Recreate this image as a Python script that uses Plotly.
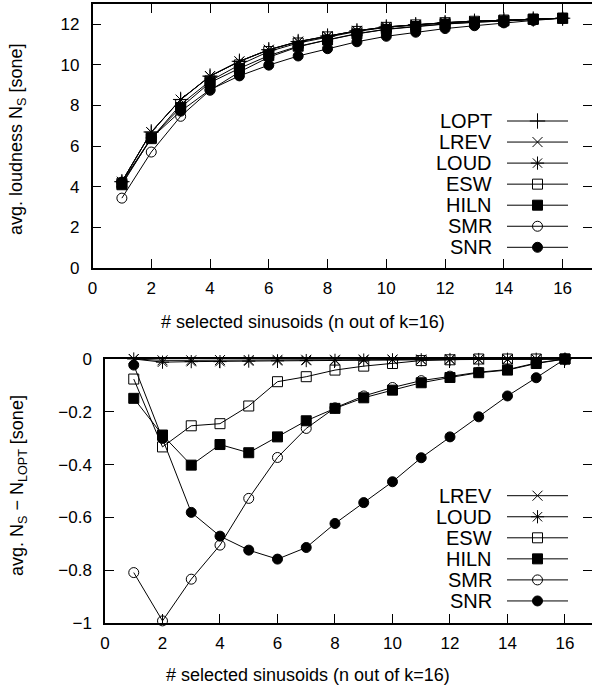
import plotly.graph_objects as go

# ---------------- data ----------------
n_sel = list(range(1, 17))

series_names = ["LOPT", "LREV", "LOUD", "ESW", "HILN", "SMR", "SNR"]

# top: average loudness N_S [sone]
loud_LOPT = [4.25, 6.70, 8.30, 9.45, 10.18, 10.75, 11.15, 11.42, 11.68, 11.87, 11.98, 12.08, 12.15, 12.21, 12.26, 12.30]
loud_LREV = [4.25, 6.69, 8.29, 9.45, 10.18, 10.75, 11.15, 11.42, 11.68, 11.87, 11.98, 12.08, 12.15, 12.21, 12.26, 12.30]
loud_LOUD = [4.25, 6.69, 8.29, 9.44, 10.17, 10.74, 11.14, 11.42, 11.68, 11.87, 11.98, 12.08, 12.15, 12.21, 12.26, 12.30]
loud_ESW = [4.17, 6.37, 8.05, 9.21, 10.00, 10.66, 11.08, 11.38, 11.65, 11.85, 11.97, 12.08, 12.15, 12.21, 12.26, 12.30]
loud_HILN = [4.10, 6.41, 7.90, 9.13, 9.83, 10.46, 10.92, 11.23, 11.53, 11.75, 11.89, 12.01, 12.10, 12.17, 12.24, 12.30]
loud_SMR = [3.44, 5.71, 7.47, 8.75, 9.65, 10.38, 10.89, 11.24, 11.54, 11.76, 11.90, 12.02, 12.10, 12.17, 12.25, 12.30]
loud_SNR = [4.23, 6.40, 7.72, 8.78, 9.46, 9.99, 10.44, 10.80, 11.14, 11.41, 11.61, 11.79, 11.93, 12.07, 12.19, 12.30]

# bottom: N_S - N_LOPT [sone]
diff_LREV = [0.0, -0.005, -0.005, -0.004, -0.004, -0.003, -0.003, -0.003, -0.002, -0.002, -0.002, -0.001, -0.001, -0.001, 0.0, 0.0]
diff_LOUD = [0.0, -0.012, -0.010, -0.010, -0.008, -0.007, -0.006, -0.005, -0.004, -0.003, -0.003, -0.002, -0.002, -0.001, -0.001, 0.0]
diff_ESW = [-0.076, -0.333, -0.253, -0.245, -0.178, -0.086, -0.067, -0.042, -0.027, -0.017, -0.006, -0.003, 0.0, 0.0, 0.0, 0.0]
diff_HILN = [-0.149, -0.288, -0.402, -0.324, -0.355, -0.295, -0.234, -0.187, -0.147, -0.118, -0.090, -0.070, -0.052, -0.042, -0.017, 0.0]
diff_SMR = [-0.809, -0.992, -0.834, -0.705, -0.528, -0.373, -0.263, -0.185, -0.140, -0.108, -0.082, -0.065, -0.050, -0.040, -0.015, 0.0]
diff_SNR = [-0.023, -0.301, -0.581, -0.671, -0.724, -0.758, -0.714, -0.623, -0.544, -0.465, -0.374, -0.295, -0.219, -0.140, -0.071, 0.0]

top_x_ticks = [0, 2, 4, 6, 8, 10, 12, 14, 16]
top_y_ticks = [0, 2, 4, 6, 8, 10, 12]
bot_y_ticks = [-1, -0.8, -0.6, -0.4, -0.2, 0]

x_title = "# selected sinusoids (n out of k=16)"
top_y_title = "avg. loudness N<sub>S</sub> [sone]"
bot_y_title = "avg. N<sub>S</sub> \u2212 N<sub>LOPT</sub> [sone]"

# ---------------- styles ----------------
W, H = 592, 687
FONT = "Liberation Sans, Arial, Helvetica, sans-serif"
styles = {
    "LOPT": dict(symbol="cross-thin-open", size=11),
    "LREV": dict(symbol="x-thin-open", size=10),
    "LOUD": dict(symbol="asterisk-open", size=11),
    "ESW": dict(symbol="square-open", size=10),
    "HILN": dict(symbol="square", size=10),
    "SMR": dict(symbol="circle-open", size=10),
    "SNR": dict(symbol="circle", size=10),
}

def px_x(p):
    return p / W

def px_y(p):
    return (H - p) / H

fig = go.Figure()

def add_series(xs, ys, name, xa, ya):
    st = styles[name]
    fig.add_trace(go.Scatter(
        x=xs, y=ys, mode="lines+markers", name=name, showlegend=False,
        line=dict(color="black", width=1),
        marker=dict(symbol=st["symbol"], size=st["size"], color="black",
                    line=dict(color="black", width=1)),
        xaxis=xa, yaxis=ya, cliponaxis=False,
    ))

top_data = [loud_LOPT, loud_LREV, loud_LOUD, loud_ESW, loud_HILN, loud_SMR, loud_SNR]
for name, ys in zip(series_names, top_data):
    add_series(n_sel, ys, name, "x", "y")

bot_names = series_names[1:]
bot_data = [diff_LREV, diff_LOUD, diff_ESW, diff_HILN, diff_SMR, diff_SNR]
for name, ys in zip(bot_names, bot_data):
    add_series(n_sel, ys, name, "x2", "y2")

# ---------------- custom legends (symbol to the right of label) ----------------
def add_legend(names, xa, ya):
    for i, name in enumerate(names):
        st = styles[name]
        fig.add_trace(go.Scatter(
            x=[0, 0.5, 1], y=[i, i, i], mode="lines+markers", showlegend=False,
            line=dict(color="black", width=1),
            marker=dict(symbol=st["symbol"], size=st["size"], color="black",
                        opacity=[0, 1, 0], line=dict(color="black", width=1)),
            xaxis=xa, yaxis=ya, cliponaxis=False, hoverinfo="skip",
        ))
        fig.add_annotation(x=0, y=i, xref=xa, yref=ya, text=name, showarrow=False,
                           xanchor="right", yanchor="middle", xshift=-13,
                           font=dict(family=FONT, size=20, color="black"))

add_legend(series_names, "x3", "y3")
add_legend(bot_names, "x4", "y4")

# ---------------- layout ----------------
axis_common = dict(
    showline=True, linecolor="black", linewidth=1.5, mirror="ticks",
    ticks="inside", ticklen=9, tickwidth=1.2, tickcolor="black",
    showgrid=False, zeroline=False, automargin=False,
    tickfont=dict(family=FONT, size=17, color="black"),
)

top_t, top_b = 4, 268
bot_t, bot_b = 359, 623
top_l, bot_l = 92.5, 105

leg_top_rows = (121, 121 + 6 * 21.05)
leg_bot_rows = (495.7, 495.7 + 5 * 21.05)

hidden = dict(visible=False, automargin=False)

fig.update_layout(
    width=W, height=H,
    margin=dict(l=0, r=0, t=0, b=0, autoexpand=False),
    paper_bgcolor="white", plot_bgcolor="white",
    font=dict(family=FONT, color="black"),
    xaxis=dict(domain=[px_x(top_l), 1], range=[0, 17], tickvals=top_x_ticks,
               ticklabelstandoff=4, anchor="y", **axis_common),
    yaxis=dict(domain=[px_y(top_b), px_y(top_t)], range=[0, 13], tickvals=top_y_ticks,
               ticklabelstandoff=8, anchor="x", **axis_common),
    xaxis2=dict(domain=[px_x(bot_l), 1], range=[0, 16.94], tickvals=top_x_ticks,
                ticklabelstandoff=4, anchor="y2", **axis_common),
    yaxis2=dict(domain=[px_y(bot_b), px_y(bot_t)], range=[-1, 0], tickvals=bot_y_ticks,
                ticktext=["\u22121", "\u22120.8", "\u22120.6", "\u22120.4", "\u22120.2", "0"],
                ticklabelstandoff=8, anchor="x2", **axis_common),
    xaxis3=dict(domain=[px_x(507), px_x(568)], range=[0, 1], anchor="y3", **hidden),
    yaxis3=dict(domain=[px_y(leg_top_rows[1] + 10), px_y(leg_top_rows[0] - 10)],
                range=[6 + 10 / 21.05, -10 / 21.05], anchor="x3", **hidden),
    xaxis4=dict(domain=[px_x(507), px_x(568)], range=[0, 1], anchor="y4", **hidden),
    yaxis4=dict(domain=[px_y(leg_bot_rows[1] + 10), px_y(leg_bot_rows[0] - 10)],
                range=[5 + 10 / 21.05, -10 / 21.05], anchor="x4", **hidden),
)

# axis titles
title_font = dict(family=FONT, size=18, color="black")
fig.add_annotation(x=px_x(302.5), y=px_y(322), xref="paper", yref="paper",
                   text=x_title, showarrow=False, xanchor="center", yanchor="middle", font=title_font)
fig.add_annotation(x=px_x(308), y=px_y(675), xref="paper", yref="paper",
                   text=x_title, showarrow=False, xanchor="center", yanchor="middle", font=title_font)
fig.add_annotation(x=px_x(18), y=px_y(139), xref="paper", yref="paper", textangle=-90,
                   text=top_y_title, showarrow=False, xanchor="center", yanchor="middle", font=title_font)
fig.add_annotation(x=px_x(18), y=px_y(486), xref="paper", yref="paper", textangle=-90,
                   text=bot_y_title, showarrow=False, xanchor="center", yanchor="middle", font=title_font)

fig.write_html("out.html", config={"displayModeBar": False},
               post_script="document.body.style.margin='0';document.body.style.padding='0';")
